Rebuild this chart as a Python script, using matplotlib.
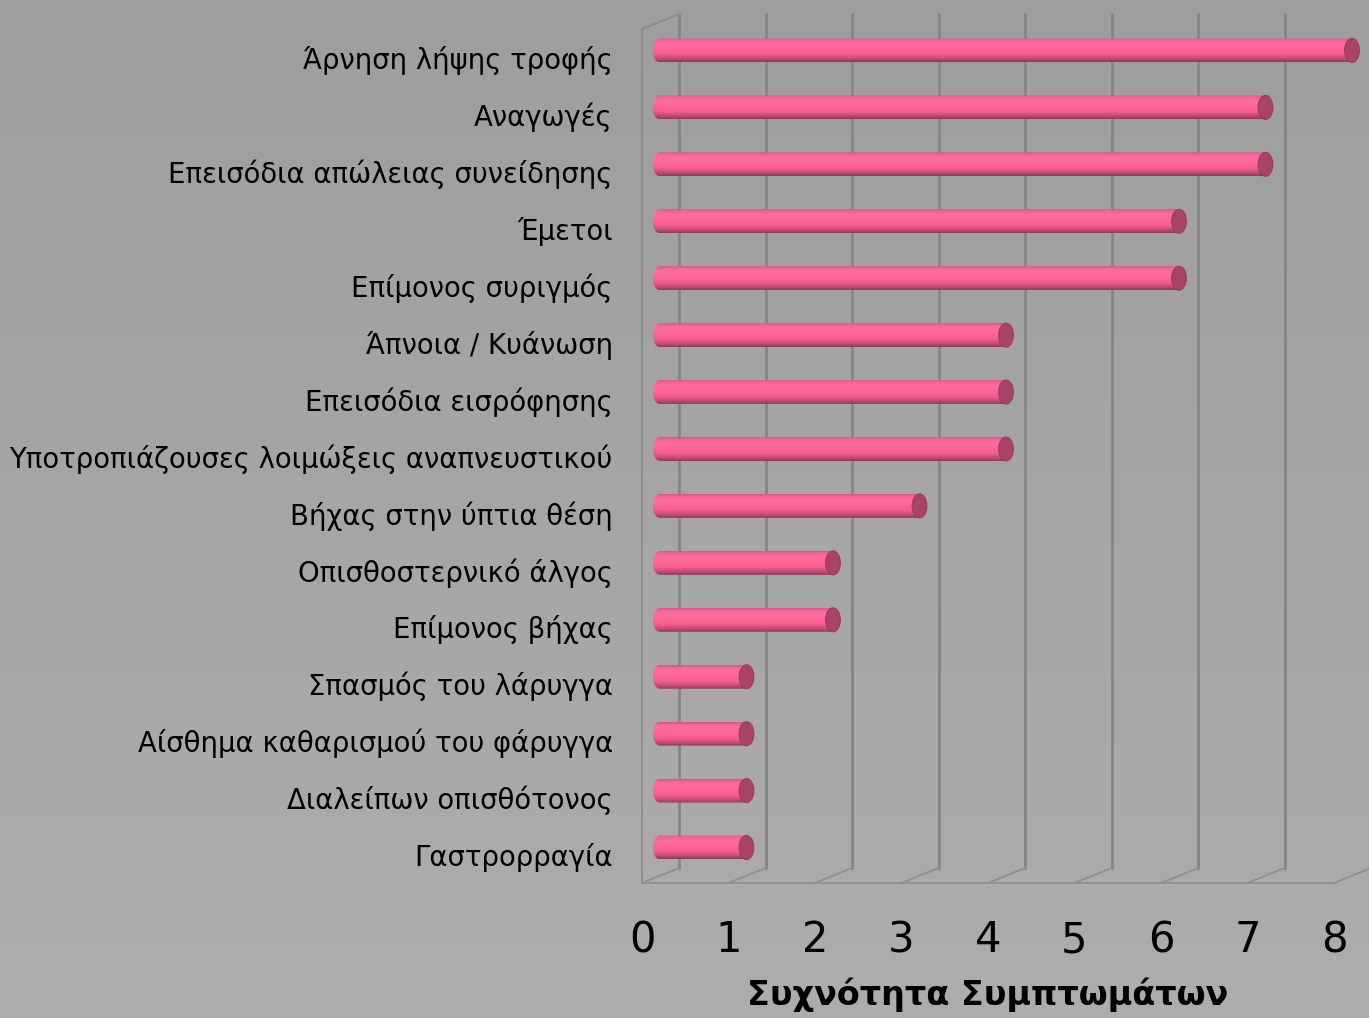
import matplotlib
matplotlib.use("Agg")
import matplotlib.pyplot as plt
import numpy as np
from matplotlib.patches import Ellipse, PathPatch
from matplotlib.path import Path
from matplotlib.transforms import ScaledTranslation
from matplotlib.colors import LinearSegmentedColormap

categories = [
    "Άρνηση λήψης τροφής",
    "Αναγωγές",
    "Επεισόδια απώλειας συνείδησης",
    "Έμετοι",
    "Επίμονος συριγμός",
    "Άπνοια / Κυάνωση",
    "Επεισόδια εισρόφησης",
    "Υποτροπιάζουσες λοιμώξεις αναπνευστικού",
    "Βήχας στην ύπτια θέση",
    "Οπισθοστερνικό άλγος",
    "Επίμονος βήχας",
    "Σπασμός του λάρυγγα",
    "Αίσθημα καθαρισμού του φάρυγγα",
    "Διαλείπων οπισθότονος",
    "Γαστρορραγία",
]
values = [8, 7, 7, 6, 6, 4, 4, 4, 3, 2, 2, 1, 1, 1, 1]
xticks = [0, 1, 2, 3, 4, 5, 6, 7, 8]
xlabel = "Συχνότητα Συμπτωμάτων"

W, H = 1369, 1018
fig = plt.figure(figsize=(W / 100, H / 100), dpi=100)

# background gradient
bg = fig.add_axes([0, 0, 1, 1], zorder=-10)
grad = np.linspace(0, 1, 256).reshape(-1, 1)
cm = LinearSegmentedColormap.from_list("bg", ["#9e9e9e", "#adadad"])
bg.imshow(grad, aspect="auto", cmap=cm, extent=[0, 1, 0, 1], origin="upper")
bg.set_axis_off()

left, right = 642 / W, 1334 / W
bottom, top = (H - 883) / H, (H - 29) / H
ax = fig.add_axes([left, bottom, right - left, top - bottom])
ax.patch.set_alpha(0)
n = len(categories)
ax.set_xlim(0, 8)
ax.set_ylim(n - 0.5, -0.5)
for s in ax.spines.values():
    s.set_visible(False)

dpi = fig.dpi
back = ax.transData + ScaledTranslation(37 / dpi, 15 / dpi, fig.dpi_scale_trans)
mid = ax.transData + ScaledTranslation(18 / dpi, 7 / dpi, fig.dpi_scale_trans)

gcol = "#858585"
ybot, ytop = n - 0.5, -0.5
for v in xticks:
    ax.plot([v, v], [ybot, ytop], color=gcol, lw=2.0, transform=back, clip_on=False, zorder=1)
ax.plot([0, 0], [ybot, ytop], color="#8c8c8c", lw=1.3, clip_on=False, zorder=1)
p_front = ax.transData.transform((0, ytop))
p_back = back.transform((0, ytop))
ax.plot([p_front[0], p_back[0]], [p_front[1], p_back[1]], color="#8c8c8c", lw=1.3,
        transform=None, clip_on=False, zorder=1)
ax.plot([0, 8], [ybot, ybot], color="#8f8f8f", lw=1.3, clip_on=False, zorder=1)
for v in xticks:
    pf = ax.transData.transform((v, ybot))
    pb = back.transform((v, ybot))
    ax.plot([pf[0], pb[0]], [pf[1], pb[1]], color="#8f8f8f", lw=1.3,
            transform=None, clip_on=False, zorder=1)

# cylinders
bh = 0.42
ew = 0.17
y = np.arange(n)
cyl = LinearSegmentedColormap.from_list(
    "cyl",
    [(0.0, "#d2577f"), (0.08, "#f5629a"), (0.22, "#ff6da0"), (0.45, "#ff6699"),
     (0.68, "#f25f90"), (0.82, "#d34f7d"), (0.93, "#a9456b"), (1.0, "#8e3a5c")])
g = np.linspace(0, 1, 64).reshape(-1, 1)
kappa = 0.5523
for yi, v in zip(y, values):
    a, b = ew / 2, bh / 2
    yt, yb = yi - b, yi + b
    verts = [(v, yt), (0, yt),
             (-a * kappa, yt), (-a, yi - b * kappa), (-a, yi),
             (-a, yi + b * kappa), (-a * kappa, yb), (0, yb),
             (v, yb), (v, yt)]
    codes = [Path.MOVETO, Path.LINETO,
             Path.CURVE4, Path.CURVE4, Path.CURVE4,
             Path.CURVE4, Path.CURVE4, Path.CURVE4,
             Path.LINETO, Path.CLOSEPOLY]
    clip = PathPatch(Path(verts, codes), transform=mid, facecolor="none", edgecolor="none")
    ax.add_patch(clip)
    im = ax.imshow(g, cmap=cyl, aspect="auto", extent=[-a, v, yb, yt],
                   origin="upper", interpolation="bilinear", zorder=3)
    im.set_transform(mid)
    im.set_clip_box(fig.bbox)
    im.set_clip_path(clip)
    ax.add_patch(Ellipse((v, yi), ew, bh, facecolor="#a84468", edgecolor="#963d60", lw=0.8,
                         transform=mid, zorder=4, clip_on=False))

ax.set_xlim(0, 8)
ax.set_ylim(n - 0.5, -0.5)
ax.set_xticks(xticks)
ax.set_xticklabels([str(t) for t in xticks], fontsize=30, fontfamily="DejaVu Sans")
ax.set_yticks(y)
ax.set_yticklabels(categories, fontsize=19.8, fontfamily="DejaVu Sans")
ax.tick_params(axis="x", length=0, pad=26)
ax.tick_params(axis="y", length=0, pad=21)
ax.set_xlabel(xlabel, fontsize=24, fontweight="bold", labelpad=12)

fig.savefig("out.png", dpi=100)
